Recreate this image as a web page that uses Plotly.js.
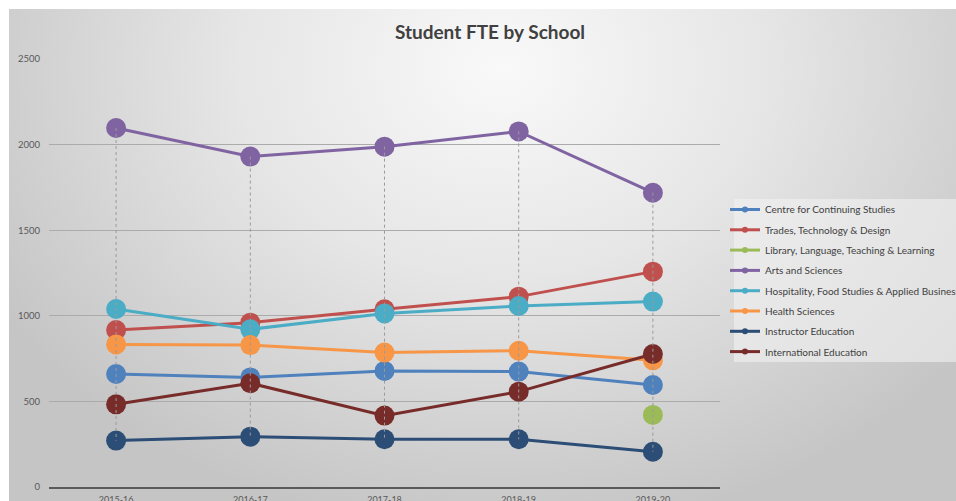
<!DOCTYPE html>
<html>
<head>
<meta charset="utf-8">
<script src="https://cdn.plot.ly/plotly-3.0.1.min.js"></script>
<style>
  html, body { margin: 0; padding: 0; background: #ffffff; width: 956px; height: 501px; overflow: hidden; }
  #bg { position: absolute; left: 9px; top: 9px; width: 947px; height: 492px;
        background: radial-gradient(ellipse 62% 95% at 52% 12%, #f9f9f9 0%, #e6e6e6 45%, #c5c5c5 100%); }
  #chart { position: absolute; left: 0; top: 0; width: 956px; height: 501px; }
</style>
</head>
<body>
<div id="bg"></div>
<div id="chart"></div>
<script>
const years = ["2015-16", "2016-17", "2017-18", "2018-19", "2019-20"];

const seriesNames = [
  "Centre for Continuing Studies",
  "Trades, Technology & Design",
  "Library, Language, Teaching & Learning",
  "Arts and Sciences",
  "Hospitality, Food Studies & Applied Business",
  "Health Sciences",
  "Instructor Education",
  "International Education"
];

const centreContinuing = [660, 640, 678, 674, 596];
const tradesTech       = [917, 960, 1038, 1112, 1258];
const libraryLanguage  = [null, null, null, null, 421];
const artsSciences     = [2097, 1930, 1988, 2077, 1719];
const hospitality      = [1040, 921, 1014, 1057, 1083];
const healthSciences   = [833, 829, 785, 796, 740];
const instructorEd     = [271, 294, 279, 279, 206];
const internationalEd  = [483, 606, 417, 557, 777];

const seriesValues = [centreContinuing, tradesTech, libraryLanguage, artsSciences,
                      hospitality, healthSciences, instructorEd, internationalEd];
const colors = ["#4F81BD", "#C0504D", "#9BBB59", "#8064A2", "#4BACC6", "#F79646", "#2C4D75", "#772C2A"];

const traces = [];
seriesValues.forEach((vals, i) => {
  traces.push({
    type: "scatter", mode: "lines+markers", x: years, y: vals, name: seriesNames[i],
    line: { color: colors[i], width: 3 },
    marker: { color: colors[i], size: 20 },
    showlegend: false, hoverinfo: "x+y+name", cliponaxis: false
  });
});

// High-low lines computed from the data
const hlX = [], hlY = [];
years.forEach((yr, j) => {
  const v = seriesValues.map(s => s[j]).filter(v => v !== null);
  hlX.push(yr, yr, null);
  hlY.push(Math.max(...v), Math.min(...v), null);
});
traces.push({
  type: "scatter", mode: "lines", x: hlX, y: hlY, showlegend: false, hoverinfo: "skip",
  line: { color: "#9a9a9a", width: 1, dash: "3px,3px" }, cliponaxis: false
});

// Legend entries with small markers
seriesNames.forEach((n, i) => {
  traces.push({
    type: "scatter", mode: "lines+markers", x: [null], y: [null], name: n,
    legendgroup: "g" + i,
    line: { color: colors[i], width: 3 }, marker: { color: colors[i], size: 6 },
    showlegend: true, hoverinfo: "skip"
  });
});

const layout = {
  width: 956, height: 501,
  paper_bgcolor: "rgba(0,0,0,0)", plot_bgcolor: "rgba(0,0,0,0)",
  margin: { l: 49, r: 236, t: 59, b: 14, pad: 0 },
  font: { family: "Lato, 'Open Sans', sans-serif", color: "#595959", size: 9 },
  title: {
    text: "<b>Student FTE by School</b>",
    font: { family: "Lato, 'Open Sans', sans-serif", size: 19, color: "#404040" },
    xref: "container", yref: "container", x: 490 / 956, xanchor: "center",
    y: 1 - 32 / 501, yanchor: "middle"
  },
  xaxis: {
    type: "category", range: [-0.5, 4.5], showgrid: false, zeroline: false,
    showline: true, linecolor: "#5a5a5a", linewidth: 2,
    ticks: "", tickfont: { size: 9, color: "#595959" }, ticklabelstandoff: 3
  },
  yaxis: {
    range: [0, 2500], dtick: 500, showgrid: true, gridcolor: "#ababab", gridwidth: 1,
    zeroline: false, showline: false, ticks: "",
    tickfont: { size: 9.5, color: "#595959" }, ticklabelstandoff: 8
  },
  shapes: [{
    type: "rect", xref: "paper", yref: "paper", layer: "below",
    x0: (734 - 49) / 671, x1: (960 - 49) / 671, y0: (487 - 362) / 428, y1: (487 - 199) / 428,
    fillcolor: "rgba(242,242,242,0.6)", line: { width: 0 }
  }],
  legend: {
    xref: "container", yref: "container", x: 725 / 956, y: 1 - 195 / 501,
    xanchor: "left", yanchor: "top", bgcolor: "rgba(0,0,0,0)",
    font: { size: 10, color: "#404040", family: "Lato, 'Open Sans', sans-serif" },
    tracegroupgap: 1.3, itemclick: false
  },
  showlegend: true
};

Plotly.newPlot("chart", traces, layout, { displayModeBar: false, staticPlot: true });
</script>
</body>
</html>
